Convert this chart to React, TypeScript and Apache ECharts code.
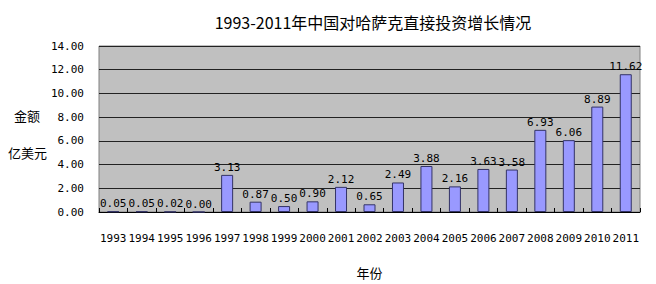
import React, { useEffect, useRef } from "react";
import * as echarts from "echarts";

const years = ["1993","1994","1995","1996","1997","1998","1999","2000","2001","2002","2003","2004","2005","2006","2007","2008","2009","2010","2011"];
const values = [0.05,0.05,0.02,0.0,3.13,0.87,0.5,0.9,2.12,0.65,2.49,3.88,2.16,3.63,3.58,6.93,6.06,8.89,11.62];
const yTicks = [0, 2, 4, 6, 8, 10, 12, 14];
const title = "1993-2011年中国对哈萨克直接投资增长情况";

const numFont = "'DejaVu Sans Mono', monospace";
const cjkFont = "'Noto Sans CJK SC', sans-serif";

export default function App() {
  const ref = useRef<HTMLDivElement>(null);
  useEffect(() => {
    const chart = echarts.init(ref.current!, null, { renderer: "svg" });
    chart.setOption({
      animation: false,
      backgroundColor: "#ffffff",
      title: {
        text: title,
        left: 368,
        top: 9,
        textAlign: "center",
        textStyle: { fontFamily: cjkFont, fontSize: 16, fontWeight: "normal", color: "#000" },
      },
      grid: {
        left: 99, right: 16, top: 46, bottom: 69,
        show: true, backgroundColor: "#C0C0C0", borderColor: "#808080", borderWidth: 1,
      },
      xAxis: {
        type: "category",
        data: years,
        axisLine: { show: true, lineStyle: { color: "#000", width: 1 } },
        axisTick: { show: true, inside: true, length: 4, lineStyle: { color: "#000" } },
        axisLabel: { margin: 21, interval: 0, fontFamily: numFont, fontSize: 11, color: "#000" },
        name: "年份",
        nameLocation: "middle",
        nameGap: 54,
        nameTextStyle: { fontFamily: cjkFont, fontSize: 13, color: "#000" },
      },
      yAxis: {
        type: "value",
        min: yTicks[0],
        max: yTicks[yTicks.length - 1],
        interval: 2,
        axisLine: { show: false },
        axisTick: { show: false },
        splitLine: { show: true, lineStyle: { color: "#222", width: 1 } },
        axisLabel: {
          margin: 15,
          padding: [6, 0, 0, 0],
          fontFamily: numFont,
          fontSize: 11,
          color: "#000",
          formatter: (v: number) => v.toFixed(2),
        },
      },
      graphic: [
        { type: "text", left: 14, top: 109, style: { text: "金额", font: `13px ${cjkFont}`, fill: "#000" } },
        { type: "text", left: 8, top: 146, style: { text: "亿美元", font: `13px ${cjkFont}`, fill: "#000" } },
      ],
      series: [
        {
          type: "bar",
          data: values,
          barWidth: 12,
          itemStyle: { color: "#9999FF", borderColor: "#333366", borderWidth: 1 },
          label: {
            show: true,
            position: "top",
            distance: 2,
            fontFamily: numFont,
            fontSize: 11,
            color: "#000",
            formatter: (p: any) => Number(p.value).toFixed(2),
          },
        },
      ],
    });
    return () => chart.dispose();
  }, []);
  return <div ref={ref} style={{ position: "fixed", left: 0, top: 0, width: 656, height: 284 }} />;
}
